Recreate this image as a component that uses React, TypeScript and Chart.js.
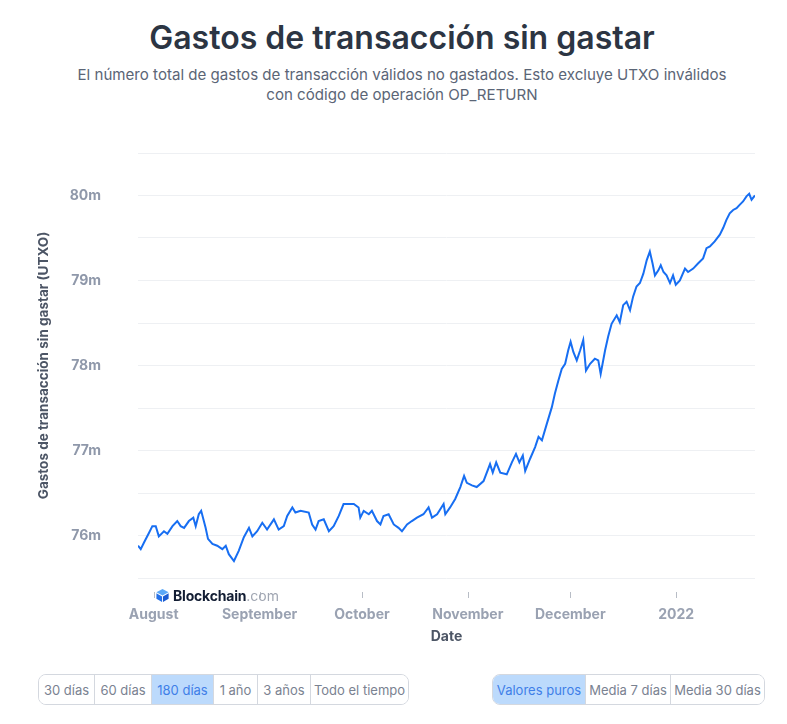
import React, { useEffect, useRef } from 'react';
import { Chart, registerables } from 'chart.js';

Chart.register(...registerables);

// Days since 1 Aug 2021 (fractional)
const dayOffsets = [
  -4.6, -3.8, -2.8, -1.4, -0.4, 0.6, 1.5, 3.0, 4.0, 5.5, 6.9, 7.9, 8.9, 10.3, 11.6, 12.3, 13.2, 13.9,
  15.2, 15.9, 17.2, 18.6, 20.1, 21.1, 22.0, 23.5, 24.9, 26.4, 27.9, 28.9, 30.3, 31.8, 33.2, 35.2,
  36.6, 38.1, 39.1, 40.6, 41.5, 43.0, 45.4, 46.4, 47.4, 48.3, 49.8, 51.3, 52.7, 54.2, 55.6, 57.1,
  58.6, 60.0, 60.5, 61.5, 63.0, 63.9, 65.4, 66.4, 67.3, 68.8, 70.3, 71.7, 72.7, 74.2, 75.6, 77.1,
  79.0, 80.5, 81.5, 83.0, 84.9, 85.4, 86.8, 88.3, 89.8, 90.9, 91.7, 93.2, 94.6, 96.6, 98.5, 99.3,
  100.3, 101.5, 103.4, 104.9, 106.1, 107.1, 108.1, 108.8, 110.2, 111.7, 112.7, 113.7, 115.1, 116.6,
  117.5, 118.5, 119.5, 120.5, 121.4, 122.1, 122.9, 123.9, 124.9, 125.8, 126.6, 127.8, 129.2, 130.2,
  130.9, 132.2, 133.1, 134.1, 135.6, 136.5, 137.5, 138.5, 139.5, 140.4, 141.4, 142.4, 143.4, 144.4,
  145.3, 146.1, 146.8, 147.8, 148.5, 149.3, 150.2, 151.2, 152.1, 152.9, 154.1, 155.6, 156.5, 158.0,
  159.4, 160.9, 161.9, 162.9, 164.3, 165.8, 166.8, 167.7, 168.7, 169.7, 170.7, 171.6, 172.6, 173.6,
  174.4, 175.1, 176.1,
];

// Unspent transaction outputs, millions
const utxoMillions = [
  75.88, 75.84, 75.92, 76.03, 76.11, 76.11, 75.99, 76.05, 76.02, 76.11, 76.17, 76.11, 76.09, 76.17, 76.21, 76.11, 76.25, 76.29,
  76.09, 75.96, 75.90, 75.88, 75.84, 75.88, 75.78, 75.70, 75.82, 75.98, 76.09, 75.99, 76.05, 76.15, 76.07, 76.19,
  76.07, 76.11, 76.23, 76.33, 76.27, 76.29, 76.27, 76.13, 76.07, 76.17, 76.19, 76.05, 76.11, 76.23, 76.37, 76.37,
  76.37, 76.33, 76.21, 76.29, 76.25, 76.29, 76.17, 76.13, 76.23, 76.25, 76.13, 76.09, 76.05, 76.13, 76.17, 76.21,
  76.25, 76.33, 76.21, 76.25, 76.37, 76.25, 76.33, 76.43, 76.57, 76.70, 76.62, 76.59, 76.57, 76.64, 76.84, 76.74,
  76.86, 76.74, 76.72, 76.86, 76.96, 76.86, 76.94, 76.76, 76.90, 77.04, 77.16, 77.12, 77.31, 77.51,
  77.67, 77.82, 77.96, 78.02, 78.18, 78.28, 78.16, 78.06, 78.18, 78.30, 77.94, 78.02, 78.08, 78.06,
  77.90, 78.18, 78.34, 78.49, 78.59, 78.51, 78.71, 78.75, 78.65, 78.81, 78.93, 78.97, 79.08, 79.24,
  79.34, 79.20, 79.06, 79.12, 79.18, 79.10, 79.06, 78.97, 79.06, 78.95, 79.00, 79.14, 79.10, 79.14,
  79.20, 79.26, 79.38, 79.40, 79.46, 79.54, 79.62, 79.71, 79.79, 79.83, 79.85, 79.89, 79.93, 79.99,
  80.02, 79.95, 80.00,
];

const monthTickDays = [0, 31, 61, 92, 122, 153];
const monthTickLabels = ['August', 'September', 'October', 'November', 'December', '2022'];

const yMin = 75.5;
const yMax = 80.5;
const yStep = 0.5;

const rangeButtons = ['30 días', '60 días', '180 días', '1 año', '3 años', 'Todo el tiempo'];
const rangeWidths = [55, 57, 62, 44, 53, 98];
const avgButtons = ['Valores puros', 'Media 7 días', 'Media 30 días'];
const avgWidths = [92, 85, 94];

const FONT = 'Inter, "Noto Sans", sans-serif';

const tickMarkPlugin = {
  id: 'xTickMarks',
  afterDraw(chart: any) {
    const x = chart.scales.x;
    const { ctx, chartArea } = chart;
    ctx.save();
    ctx.strokeStyle = '#b8bdc6';
    ctx.lineWidth = 1;
    x.ticks.forEach((t: any) => {
      const px = Math.round(x.getPixelForValue(t.value)) + 0.5;
      ctx.beginPath();
      ctx.moveTo(px, chartArea.bottom + 14);
      ctx.lineTo(px, chartArea.bottom + 20);
      ctx.stroke();
    });
    ctx.restore();
  },
};

function ButtonGroup({ labels, widths, active, left }: { labels: string[]; widths: number[]; active: number; left: number }) {
  return (
    <div
      style={{
        position: 'absolute',
        left,
        top: 674,
        height: 31,
        display: 'flex',
        border: '1px solid #d4d8df',
        borderRadius: 8,
        overflow: 'hidden',
        boxSizing: 'border-box',
      }}
    >
      {labels.map((l, i) => (
        <div
          key={l}
          style={{
            width: widths[i],
            boxSizing: 'border-box',
            borderLeft: i === 0 ? 'none' : '1px solid #d4d8df',
            background: i === active ? '#bcdafc' : '#ffffff',
            color: i === active ? '#3f7fe8' : '#7a8291',
            fontSize: 13,
            fontFamily: FONT,
            display: 'flex',
            alignItems: 'center',
            justifyContent: 'center',
            whiteSpace: 'nowrap',
          }}
        >
          {l}
        </div>
      ))}
    </div>
  );
}

export default function App() {
  const canvasRef = useRef<HTMLCanvasElement | null>(null);

  useEffect(() => {
    const canvas = canvasRef.current;
    if (!canvas) return;
    const points = dayOffsets.map((d, i) => ({ x: d, y: utxoMillions[i] }));
    const chart = new Chart(canvas, {
      type: 'line',
      data: {
        datasets: [
          {
            data: points,
            borderColor: '#176ef2',
            borderWidth: 2,
            pointRadius: 0,
            tension: 0,
            fill: false,
          },
        ],
      },
      options: {
        animation: false,
        responsive: false,
        maintainAspectRatio: false,
        layout: { padding: { top: 33, right: 32, left: 0, bottom: 0 } },
        plugins: { legend: { display: false }, tooltip: { enabled: false } },
        scales: {
          x: {
            type: 'linear',
            min: dayOffsets[0],
            max: dayOffsets[dayOffsets.length - 1],
            grid: { display: false },
            border: { display: false },
            afterBuildTicks: (scale: any) => {
              scale.ticks = monthTickDays.map((v) => ({ value: v }));
            },
            afterFit: (scale: any) => {
              scale.height = 82;
              scale.paddingLeft = 0;
              scale.paddingRight = 0;
            },
            ticks: {
              autoSkip: false,
              maxRotation: 0,
              padding: 20,
              color: '#9aa2b2',
              font: { family: FONT, size: 14, weight: 'bold' },
              callback: (v: any) => {
                const idx = monthTickDays.indexOf(Number(v));
                return idx >= 0 ? monthTickLabels[idx] : '';
              },
            },
            title: {
              display: true,
              text: 'Date',
              color: '#4c5565',
              font: { family: FONT, size: 14, weight: 'bold' },
              padding: { top: 0, bottom: 15 },
            },
          },
          y: {
            type: 'linear',
            min: yMin,
            max: yMax,
            grid: { color: '#eef0f3', drawTicks: false, lineWidth: 1 },
            border: { display: false },
            afterFit: (scale: any) => {
              scale.width = 138;
              scale.paddingTop = 0;
              scale.paddingBottom = 0;
            },
            ticks: {
              stepSize: yStep,
              padding: 37,
              color: '#8f98aa',
              font: { family: FONT, size: 14, weight: 'bold' },
              callback: (v: any) => {
                const n = Number(v);
                return Math.abs(n - Math.round(n)) < 1e-6 ? `${Math.round(n)}m` : '';
              },
            },
            title: {
              display: true,
              text: 'Gastos de transacción sin gastar (UTXO)',
              color: '#4c5565',
              font: { family: FONT, size: 13.5, weight: 'bold' },
              padding: { top: 36, bottom: 0 },
            },
          },
        },
      },
      plugins: [tickMarkPlugin],
    } as any);
    return () => chart.destroy();
  }, []);

  return (
    <div style={{ position: 'fixed', left: 0, top: 0, width: 787, height: 724, background: '#ffffff', overflow: 'hidden' }}>
      <div
        style={{
          position: 'absolute',
          left: 17,
          top: 19,
          width: 770,
          textAlign: 'center',
          fontFamily: FONT,
          fontWeight: 600,
          fontSize: 32,
          lineHeight: '38px',
          color: '#2c3543',
        }}
      >
        Gastos de transacción sin gastar
      </div>
      <div
        style={{
          position: 'absolute',
          left: 17,
          top: 65,
          width: 770,
          textAlign: 'center',
          fontFamily: FONT,
          fontSize: 15.1,
          lineHeight: '20px',
          color: '#5b6576',
        }}
      >
        El número total de gastos de transacción válidos no gastados. Esto excluye UTXO inválidos
        <br />
        con código de operación OP_RETURN
      </div>
      <canvas
        ref={canvasRef}
        width={787}
        height={540}
        style={{ position: 'absolute', left: 0, top: 120, width: 787, height: 540 }}
      />
      <div
        style={{
          position: 'absolute',
          left: 155,
          top: 586,
          height: 18,
          display: 'flex',
          alignItems: 'center',
          fontFamily: FONT,
          fontSize: 14,
          whiteSpace: 'nowrap',
        }}
      >
        <svg width="15" height="15" viewBox="0 0 16 16" style={{ marginRight: 3 }}>
          <polygon points="8,1 14.5,4.5 8,8 1.5,4.5" fill="#5ba8f7" />
          <polygon points="1.5,5.5 7.5,9 7.5,15 1.5,11.5" fill="#2571e8" />
          <polygon points="14.5,5.5 8.5,9 8.5,15 14.5,11.5" fill="#1a5bd1" />
        </svg>
        <span style={{ fontWeight: 700, color: '#121d33', letterSpacing: -0.2 }}>Blockchain</span>
        <span style={{ color: '#a0a6b2' }}>.com</span>
      </div>
      <ButtonGroup labels={rangeButtons} widths={rangeWidths} active={2} left={38} />
      <ButtonGroup labels={avgButtons} widths={avgWidths} active={0} left={492} />
    </div>
  );
}
